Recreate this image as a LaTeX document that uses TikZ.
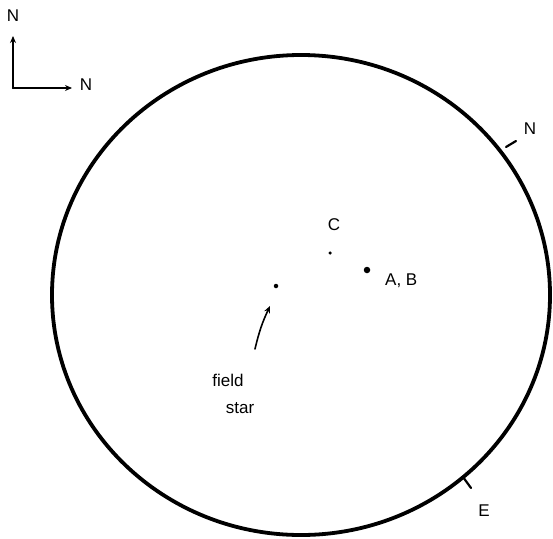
\documentclass[tikz,border=0pt]{standalone}
\usepackage{fontspec}
\setmainfont{Liberation Sans}
\usetikzlibrary{arrows.meta}
\begin{document}
\begin{tikzpicture}[x=1pt,y=-1pt,
  lbl/.style={inner sep=0pt,font=\fontsize{17}{17}\selectfont},
  ink/.style={line width=2.2pt,line cap=round},
  dotmark/.style={circle,fill=black,inner sep=0pt,minimum size=#1}]
\useasboundingbox (0,0) rectangle (553,538);
% field of view
\draw[line width=3.8pt] (301,295) ellipse [x radius=249, y radius=240];
% compass
\coordinate (o) at (13,88);
\coordinate (up) at (13,36);
\coordinate (rt) at (72,88);
\draw[ink,-{Stealth[length=7pt,width=6pt]}] (o) -- (up);
\draw[ink,-{Stealth[length=7pt,width=6pt]}] (o) -- (rt);
\node[lbl] (nt) at (13,16) {N};
\node[lbl] (nr) at (86,85) {N};
% stars
\node[dotmark=3.5pt] (c) at (330,253) {};
\node[dotmark=6.5pt] (ab) at (367,270) {};
\node[dotmark=4.5pt] (fs) at (276,286) {};
\node[lbl] (cl) at (334,225) {C};
\node[lbl,anchor=west] (abl) at (385,281) {A, B};
\node[lbl] (f1) at (228,380) {field};
\node[lbl] (f2) at (240,408) {star};
\coordinate (fa) at (255,349);
\coordinate (fb) at (270,306);
\draw[ink,line width=1.6pt,-{Stealth[length=7pt,width=6pt]}] (fa) to[bend left=6] (fb);
% ticks on the circle
\coordinate (tn1) at (506,147);
\coordinate (tn2) at (516,141);
\draw[ink] (tn1) -- (tn2);
\node[lbl] (nl) at (530,129) {N};
\coordinate (te1) at (463,477);
\coordinate (te2) at (471,488);
\draw[ink] (te1) -- (te2);
\node[lbl] (el) at (484,511) {E};
\end{tikzpicture}
\end{document}
